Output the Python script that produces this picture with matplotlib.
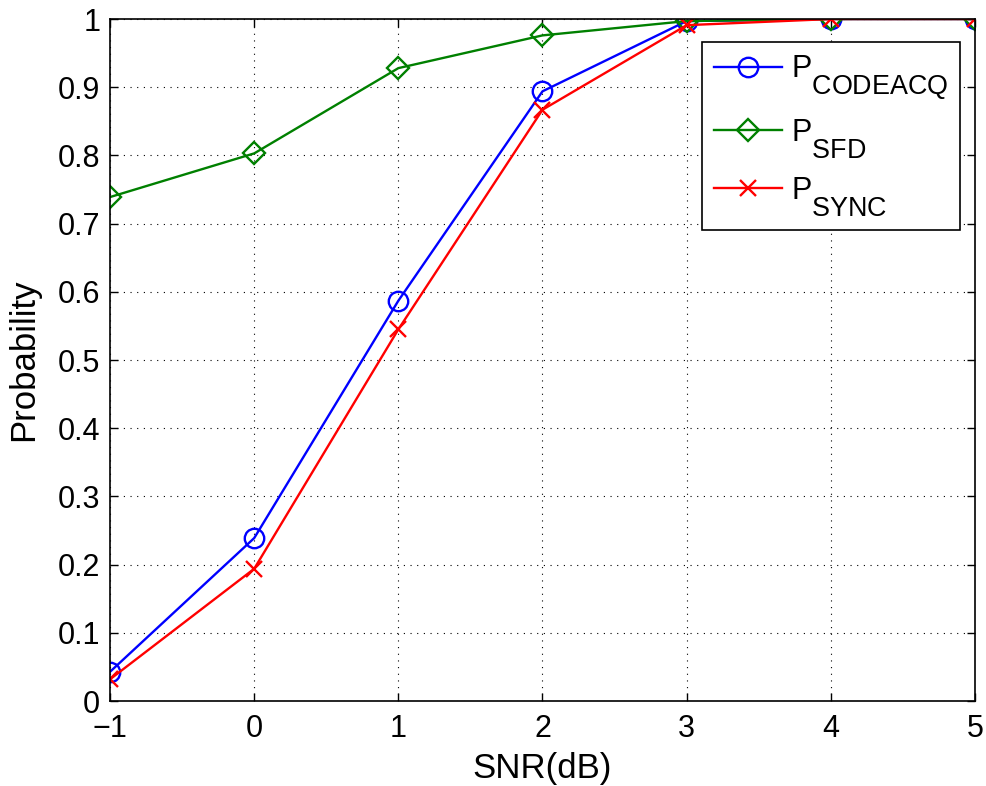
import numpy as np
import matplotlib.pyplot as plt
import matplotlib._mathtext as mt

plt.rcParams['font.family'] = ['Liberation Sans', 'DejaVu Sans']
plt.rcParams['mathtext.fontset'] = 'custom'
plt.rcParams['mathtext.rm'] = 'Liberation Sans'
# MATLAB-style subscripts: barely smaller than the base text and set lower
mt.SHRINK_FACTOR = 0.88
mt.FontConstantsBase.sub1 = 1.0
mt.FontConstantsBase.sub2 = 1.0

# data
snr = [-1, 0, 1, 2, 3, 4, 5]
p_codeacq = [0.043, 0.239, 0.587, 0.894, 0.997, 1.0, 1.0]
p_sfd = [0.739, 0.803, 0.928, 0.976, 0.997, 1.0, 1.0]
p_sync = [0.032, 0.194, 0.545, 0.867, 0.991, 1.0, 1.0]

fig = plt.figure(figsize=(9.86, 7.86), dpi=100)
ax = fig.add_axes([0.1116, 0.108, 0.8772, 0.8678])

ax.plot(snr, p_codeacq, color='#0000ff', lw=1.7, marker='o', ms=14,
        mfc='none', mew=1.7, label=r'$\mathregular{P_{CODEACQ}}$')
ax.plot(snr, p_sfd, color='#008000', lw=1.7, marker='D', ms=11,
        mfc='none', mew=1.7, label=r'$\mathregular{P_{SFD}}$')
ax.plot(snr, p_sync, color='#ff0000', lw=1.7, marker='x', ms=12,
        mew=1.7, label=r'$\mathregular{P_{SYNC}}$')

ax.set_xlim(-1, 5)
ax.set_ylim(0, 1)
ax.set_xticks(snr)
ax.set_xticklabels(['\u22121', '0', '1', '2', '3', '4', '5'])
ax.set_yticks(np.arange(0, 1.01, 0.1))
ax.set_yticklabels(['0', '0.1', '0.2', '0.3', '0.4', '0.5', '0.6', '0.7', '0.8', '0.9', '1'])
ax.tick_params(direction='in', length=6, width=1, labelsize=22,
               top=True, right=True)
ax.tick_params(axis='x', pad=9)
ax.tick_params(axis='y', pad=7)
ax.grid(True, color='black', linestyle=(0, (1, 5)), linewidth=0.8)
for s in ax.spines.values():
    s.set_linewidth(1.2)

ax.set_xlabel('SNR(dB)', fontsize=25, labelpad=6)
ax.set_ylabel('Probability', fontsize=25, labelpad=13)

leg = ax.legend(loc='upper right', bbox_to_anchor=(0.983, 0.967), fontsize=22,
                fancybox=False, edgecolor='black', framealpha=1,
                handlelength=2.2, borderpad=0.4, labelspacing=0.5,
                handletextpad=0.3, borderaxespad=0)
leg.get_frame().set_linewidth(1.2)

fig.savefig('out.png', dpi=100)
